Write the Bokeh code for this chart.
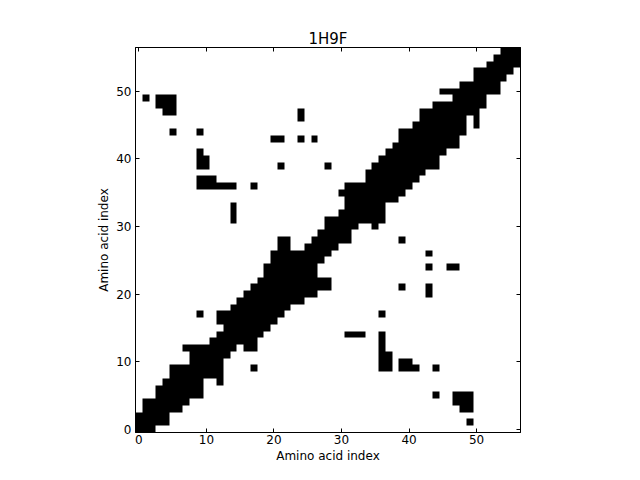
import numpy as np
from bokeh.plotting import figure
from bokeh.models import LinearAxis, FixedTicker, Range1d
from bokeh.embed import file_html
from bokeh.resources import INLINE

N = 57
# first column of the diagonal band in each row (row index = position in list)
band_start = [0, 0, 0, 1, 1, 3, 3, 4, 5, 5, 8, 8, 7, 11, 12, 13, 12, 12, 14, 15,
              16, 17, 18, 19, 19, 20, 20, 21, 21, 27, 28, 28, 30, 31, 31, 30, 31, 34, 34, 35,
              36, 37, 38, 39, 39, 41, 42, 42, 44, 47, 45, 48, 50, 50, 52, 53, 54]
# empty cells inside the band (row, column)
gap_rows = [27, 27, 28, 28, 28, 15]
gap_cols = [23, 24, 23, 24, 25, 12]
# isolated contacts away from the diagonal (column, row), mirrored across the diagonal
contact_i = [1, 3, 3, 4, 4, 4, 5, 5, 5, 5, 9, 20, 21, 24, 26, 24, 24, 9, 9, 9, 10, 10,
             21, 28, 9, 10, 11, 9, 10, 11, 12, 13, 14, 17, 14, 14, 14, 9]
contact_j = [49, 49, 48, 49, 48, 47, 49, 48, 47, 44, 44, 43, 43, 43, 43, 47, 46, 41, 40, 39, 40, 39,
             39, 39, 37, 37, 37, 36, 36, 36, 36, 36, 36, 36, 33, 32, 31, 17]
tick_values = [0, 10, 20, 30, 40, 50]

gaps = set(zip(gap_rows, gap_cols))
M = np.zeros((N, N), dtype=float)
for r in range(N):
    for c in range(band_start[r], r + 1):
        if (r, c) not in gaps:
            M[r, c] = 1
            M[c, r] = 1
for i, j in zip(contact_i, contact_j):
    M[j, i] = 1
    M[i, j] = 1

FONT = "DejaVu Sans"
p = figure(frame_width=385, frame_height=385, output_backend="svg", toolbar_location=None,
           x_range=Range1d(-0.5, N - 0.5), y_range=Range1d(-0.5, N - 0.5),
           min_border_left=135, min_border_right=104, min_border_top=47, min_border_bottom=30,
           title="1H9F")
p.image(image=[M], x=-0.5, y=-0.5, dw=N, dh=N, palette=["#ffffff", "#000000"])

p.title.align = "center"
p.title.text_font = FONT
p.title.text_font_size = "15px"
p.title.text_font_style = "normal"
p.title.text_color = "black"
p.title.standoff = 0
p.grid.visible = False
p.outline_line_color = "black"
p.outline_line_width = 1
p.background_fill_color = "white"
p.border_fill_color = "white"

for ax in (p.xaxis[0], p.yaxis[0]):
    ax.ticker = FixedTicker(ticks=tick_values)
    ax.minor_tick_line_color = None
    ax.major_tick_in = 4
    ax.major_tick_out = 0
    ax.major_label_text_font = FONT
    ax.major_label_text_font_size = "12px"
    ax.major_label_text_color = "black"
    ax.axis_label_text_font = FONT
    ax.axis_label_text_font_size = "12px"
    ax.axis_label_text_font_style = "normal"
    ax.axis_label_text_color = "black"
    ax.axis_label = "Amino acid index"
    ax.axis_label_standoff = 2
    ax.axis_line_color = "black"
    ax.major_tick_line_color = "black"
p.xaxis[0].major_label_standoff = 2
p.yaxis[0].major_label_standoff = 4

for loc in ("above", "right"):
    ax = LinearAxis(ticker=FixedTicker(ticks=tick_values))
    ax.minor_tick_line_color = None
    ax.major_tick_in = 4
    ax.major_tick_out = 0
    ax.major_tick_line_color = "black"
    ax.major_label_text_color = None
    ax.major_label_text_font_size = "1px"
    ax.major_label_standoff = 0
    ax.axis_line_color = "black"
    p.add_layout(ax, loc)

open("out.html", "w").write(file_html(p, INLINE))
